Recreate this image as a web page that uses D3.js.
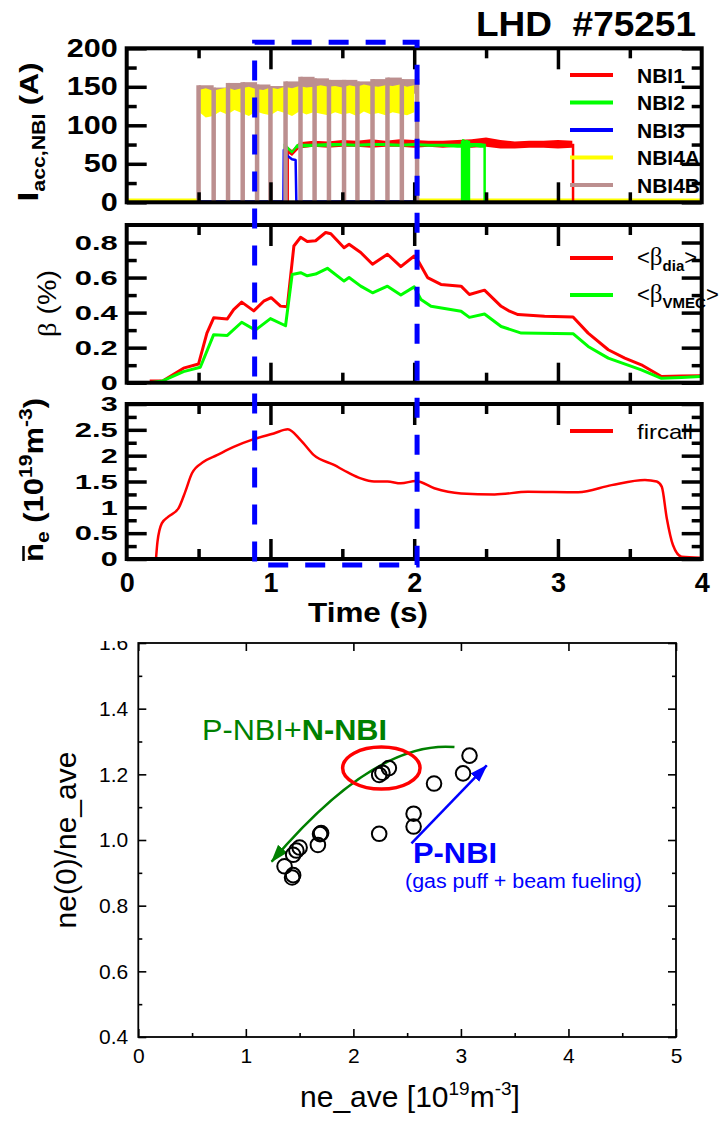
<!DOCTYPE html>
<html>
<head>
<meta charset="utf-8">
<script src="https://cdn.jsdelivr.net/npm/d3@7"></script>
<style>
  body { margin: 0; background: #fff; }
  svg { display: block; font-family: "Liberation Sans", Arial, Helvetica, sans-serif; }
</style>
</head>
<body>
<div id="chart"></div>
<script>

// ---------------- upper figure: LHD #75251 time traces ----------------
let shotTitle = "LHD  #75251";
let timeLabels = [0, 1, 2, 3, 4];
let timeMajor = [1, 2, 3];
let timeMinor = [0.5, 1.5, 2.5, 3.5];

let iaccMajor = [0, 50, 100, 150, 200];
let iaccMinor = [25, 75, 125, 175];
let betaMajor = [0, 0.2, 0.4, 0.6, 0.8];
let betaMinor = [0.1, 0.3, 0.5, 0.7];
let neMajor = [0, 0.5, 1, 1.5, 2, 2.5, 3];
let neMinor = [0.25, 0.75, 1.25, 1.75, 2.25, 2.75];

let nbiNames = ["NBI1", "NBI2", "NBI3", "NBI4A", "NBI4B"];
let nbiColors = ["#ff0000", "#00ff00", "#0000ff", "#ffff00", "#bc8f8f"];

// NBI1 (red), noisy band
let nbi1T  = [1.12, 1.15, 1.2, 1.3, 1.4, 1.5, 1.6, 1.7, 1.8, 1.9, 2.0, 2.1, 2.2, 2.3, 2.4, 2.5, 2.6, 2.7, 2.8, 2.9, 3.0, 3.1];
let nbi1Lo = [64, 60, 70, 72, 71, 72, 72, 71, 72, 72, 71, 72, 71, 72, 71, 72, 70, 70, 71, 71, 70, 71];
let nbi1Hi = [72, 68, 78, 80, 79, 81, 80, 82, 80, 82, 81, 80, 80, 81, 82, 84, 81, 79, 80, 80, 81, 80];
let nbi1Edges = [[1.12, 68], [3.105, 76]];

// NBI2 (green)
let nbi2T  = [1.10, 1.12, 1.15, 1.18, 1.2, 1.3, 1.4, 1.5, 1.6, 1.7, 1.8, 1.9, 2.0, 2.1, 2.2, 2.3, 2.33];
let nbi2Lo = [72, 68, 63, 70, 71, 72, 72, 73, 72, 73, 73, 72, 73, 72, 72, 71, 71];
let nbi2Hi = [77, 73, 67, 75, 76, 76, 77, 77, 76, 77, 77, 76, 77, 76, 76, 76, 76];
let nbi2bT  = [2.385, 2.42, 2.46, 2.49];
let nbi2bLo = [71, 72, 71, 71];
let nbi2bHi = [77, 77, 77, 76];
let nbi2Edges = [[1.10, 76], [2.333, 80], [2.341, 82], [2.349, 80], [2.357, 80], [2.365, 81], [2.373, 80], [2.381, 80], [2.49, 76]];

// NBI3 (blue), short pulse
let nbi3T = [0.5, 1.09, 1.093, 1.12, 1.15, 1.175, 1.18, 2.02];
let nbi3V = [1, 1, 68, 60, 56, 55, 1, 1];

// NBI4A (yellow), noisy band
let nbi4aT  = [0.50, 0.55, 0.60, 0.65, 0.70, 0.75, 0.80, 0.85, 0.90, 0.95, 1.00, 1.05, 1.10, 1.15, 1.20, 1.25, 1.30, 1.35, 1.40, 1.45, 1.50, 1.55, 1.60, 1.65, 1.70, 1.75, 1.80, 1.85, 1.90, 1.95, 2.00];
let nbi4aLo = [118, 110, 112, 118, 114, 120, 116, 112, 118, 115, 113, 119, 116, 112, 118, 114, 117, 115, 113, 117, 114, 116, 112, 118, 114, 116, 113, 117, 115, 113, 117];
let nbi4aHi = [146, 148, 145, 147, 149, 146, 148, 150, 147, 146, 149, 147, 150, 148, 151, 149, 150, 152, 150, 151, 149, 152, 150, 153, 151, 150, 152, 151, 153, 150, 152];
let nbi4aEdges = [[0.5, 140], [2.02, 150]];

// NBI4B (brown), modulated: brief drops to zero
let nbi4bOn = [0.50, 2.02];
let nbi4bDrops = [0.605, 0.705, 0.807, 0.907, 1.0, 1.105, 1.209, 1.307, 1.407, 1.512, 1.605, 1.71, 1.814, 1.914];
let nbi4bTop = [152, 149, 155, 156, 153, 151, 157, 163, 161, 159, 159, 157, 160, 162, 160];
let nbi4bLow = [138, 137, 139, 140, 138, 138, 140, 141, 142, 141, 141, 140, 141, 142, 141];

// off-beam noise near zero
let zeroNoiseT = [[0, 0.5], [2.02, 4]];

// beta
let betaNames = ["dia", "VMEC"];
let betaColors = ["#ff0000", "#00ff00"];
let betaDiaT = [0.16, 0.25, 0.395, 0.50, 0.558, 0.605, 0.70, 0.744, 0.80, 0.884, 0.953, 1.005, 1.07, 1.117, 1.163, 1.21, 1.256, 1.314, 1.384, 1.42, 1.512, 1.547, 1.628, 1.71, 1.814, 1.907, 2.0, 2.035, 2.093, 2.186, 2.326, 2.384, 2.489, 2.605, 2.663, 2.722, 2.907, 3.105, 3.21, 3.35, 3.465, 3.58, 3.72, 3.86, 3.99];
let betaDia  = [0.01, 0.01, 0.083, 0.107, 0.283, 0.37, 0.364, 0.417, 0.46, 0.41, 0.465, 0.485, 0.437, 0.433, 0.78, 0.83, 0.806, 0.81, 0.857, 0.85, 0.77, 0.79, 0.743, 0.676, 0.733, 0.662, 0.723, 0.685, 0.60, 0.561, 0.551, 0.503, 0.528, 0.436, 0.408, 0.389, 0.379, 0.375, 0.283, 0.188, 0.14, 0.102, 0.035, 0.038, 0.04];
let betaVmecT = [0.16, 0.25, 0.395, 0.512, 0.605, 0.70, 0.80, 0.895, 1.0, 1.105, 1.151, 1.21, 1.256, 1.314, 1.396, 1.512, 1.547, 1.628, 1.71, 1.814, 1.907, 2.0, 2.047, 2.117, 2.326, 2.384, 2.489, 2.605, 2.745, 3.105, 3.21, 3.35, 3.58, 3.72, 3.86, 3.99];
let betaVmec  = [0.0, 0.01, 0.063, 0.088, 0.274, 0.27, 0.345, 0.30, 0.366, 0.325, 0.618, 0.628, 0.61, 0.62, 0.653, 0.58, 0.60, 0.551, 0.513, 0.551, 0.50, 0.547, 0.475, 0.436, 0.408, 0.373, 0.392, 0.321, 0.283, 0.28, 0.207, 0.14, 0.073, 0.025, 0.03, 0.035];

// line averaged density (fircall)
let fircallT = [0.204, 0.214, 0.244, 0.29, 0.36, 0.407, 0.454, 0.535, 0.628, 0.744, 0.884, 1.023, 1.121, 1.21, 1.302, 1.442, 1.535, 1.628, 1.721, 1.814, 1.907, 2.012, 2.14, 2.326, 2.559, 2.791, 3.14, 3.373, 3.605, 3.687, 3.722, 3.757, 3.80, 3.86, 3.99];
let fircallV = [0.01, 0.33, 0.69, 0.82, 0.98, 1.30, 1.66, 1.88, 2.01, 2.17, 2.32, 2.43, 2.51, 2.30, 2.01, 1.82, 1.68, 1.56, 1.50, 1.50, 1.465, 1.51, 1.37, 1.27, 1.25, 1.30, 1.29, 1.43, 1.53, 1.50, 1.40, 0.79, 0.27, 0.045, 0.025];

// analysed time window
let windowT = [0.89, 2.02];

// ---------------- lower figure: peaking factor vs density ----------------
let neAve   = [3.08, 3.02, 2.75, 2.56, 2.56, 2.24, 2.33, 2.27, 2.24, 1.70, 1.69, 1.67, 1.50, 1.47, 1.44, 1.36, 1.44, 1.43];
let neRatio = [1.257, 1.203, 1.172, 1.080, 1.041, 1.019, 1.219, 1.205, 1.198, 1.021, 1.018, 0.985, 0.977, 0.968, 0.955, 0.920, 0.893, 0.886];
let sxTicks = [0, 1, 2, 3, 4, 5];
let sxMinor = [0.5, 1.5, 2.5, 3.5, 4.5];
let syTicks = [0.4, 0.6, 0.8, 1.0, 1.2, 1.4, 1.6];
let syMinor = [0.5, 0.7, 0.9, 1.1, 1.3, 1.5];

let greenArrow = [[2.94, 1.283], [2.20, 1.305], [1.24, 0.934]];
let blueArrow = [[2.54, 0.99], [3.24, 1.227]];
let redEllipse = { cx: 2.26, cy: 1.219, rx: 0.36, ry: 0.064 };

// ---------------------------------------------------------------------
let width = 719;
let height = 1122;

let svg = d3.select("#chart")
  .append("svg")
  .attr("width", width)
  .attr("height", height);

let plotL = 126.7;
let plotR = 701.7;
let x = d3.scaleLinear().domain([0, 4]).range([plotL, plotR]);

let iaccY = d3.scaleLinear().domain([0, 200]).range([202.3, 48.3]);
let betaY = d3.scaleLinear().domain([0, 0.9]).range([382.7, 225]);
let neY = d3.scaleLinear().domain([0, 3]).range([559, 404]);

function rows(T, lo, hi) {
  return T.map(function(t, i) { return { t: t, lo: lo[i], hi: hi[i] }; });
}

function band(g, data, color, y) {
  g.append("path")
    .datum(data)
    .attr("fill", color)
    .attr("d", d3.area()
      .x(function(d) { return x(d.t); })
      .y0(function(d) { return y(d.lo); })
      .y1(function(d) { return y(d.hi); }));
}

function edges(g, list, color, y, w) {
  g.selectAll(null)
    .data(list)
    .enter()
    .append("line")
    .attr("x1", function(d) { return x(d[0]); })
    .attr("x2", function(d) { return x(d[0]); })
    .attr("y1", y(0))
    .attr("y2", function(d) { return y(d[1]); })
    .attr("stroke", color)
    .attr("stroke-width", w);
}

function trace(g, T, V, color, y, w, curve) {
  g.append("path")
    .datum(T.map(function(t, i) { return [t, V[i]]; }))
    .attr("fill", "none")
    .attr("stroke", color)
    .attr("stroke-width", w)
    .attr("stroke-linejoin", "round")
    .attr("d", d3.line()
      .x(function(d) { return x(d[0]); })
      .y(function(d) { return y(d[1]); })
      .curve(curve || d3.curveLinear));
}

function labelLength(s, digitW, dotW) {
  let n = 0;
  for (let c of s) n += (c === ".") ? dotW : digitW;
  return n;
}

function panelAxes(y, major, minor, fmt, fontSize, digitW) {
  let g = svg.append("g");
  let top = y.range()[1];
  let bottom = y.range()[0];

  let left = g.append("g")
    .attr("transform", "translate(" + plotL + ",0)")
    .call(d3.axisLeft(y).tickValues(major).tickSize(-20).tickPadding(9).tickFormat(fmt));
  left.selectAll("text")
    .attr("font-size", fontSize)
    .attr("font-weight", "bold")
    .attr("font-family", "Liberation Sans, Arial, sans-serif")
    .attr("textLength", function() { return labelLength(this.textContent, digitW, 9); })
    .attr("lengthAdjust", "spacingAndGlyphs");

  g.append("g")
    .attr("transform", "translate(" + plotL + ",0)")
    .call(d3.axisLeft(y).tickValues(minor).tickSize(-10).tickFormat(""));
  g.append("g")
    .attr("transform", "translate(" + plotR + ",0)")
    .call(d3.axisRight(y).tickValues(major).tickSize(-20).tickFormat(""));
  g.append("g")
    .attr("transform", "translate(" + plotR + ",0)")
    .call(d3.axisRight(y).tickValues(minor).tickSize(-10).tickFormat(""));

  g.append("g")
    .attr("transform", "translate(0," + top + ")")
    .call(d3.axisTop(x).tickValues(timeMajor).tickSize(-21).tickFormat(""));
  g.append("g")
    .attr("transform", "translate(0," + top + ")")
    .call(d3.axisTop(x).tickValues(timeMinor).tickSize(-10).tickFormat(""));
  g.append("g")
    .attr("transform", "translate(0," + bottom + ")")
    .call(d3.axisBottom(x).tickValues(timeMajor).tickSize(-20).tickFormat(""));
  g.append("g")
    .attr("transform", "translate(0," + bottom + ")")
    .call(d3.axisBottom(x).tickValues(timeMinor).tickSize(-10).tickFormat(""));

  g.selectAll(".domain").remove();
  g.selectAll(".tick line").attr("stroke-width", 3.5);

  g.append("rect")
    .attr("x", plotL)
    .attr("y", top)
    .attr("width", plotR - plotL)
    .attr("height", bottom - top)
    .attr("fill", "none")
    .attr("stroke", "#000")
    .attr("stroke-width", 4);
  return g;
}

function legendLine(y0, color) {
  svg.append("line")
    .attr("x1", 570).attr("x2", 613)
    .attr("y1", y0).attr("y2", y0)
    .attr("stroke", color)
    .attr("stroke-width", 4);
}

// ---- title ----
svg.append("text")
  .attr("x", 696)
  .attr("y", 36)
  .attr("text-anchor", "end")
  .attr("font-size", 35)
  .attr("font-weight", "bold")
  .style("white-space", "pre")
  .attr("textLength", 220)
  .attr("lengthAdjust", "spacingAndGlyphs")
  .text(shotTitle);

// ---- panel 1: NBI currents ----
let p1 = svg.append("g");

zeroNoiseT.forEach(function(r) {
  band(p1, [{ t: r[0], lo: -2, hi: 5 }, { t: r[1], lo: -2, hi: 5 }], "#ffff00", iaccY);
});
band(p1, rows(nbi1T, nbi1Lo, nbi1Hi), nbiColors[0], iaccY);
edges(p1, nbi1Edges, nbiColors[0], iaccY, 2.5);
band(p1, rows(nbi2T, nbi2Lo, nbi2Hi), nbiColors[1], iaccY);
band(p1, rows(nbi2bT, nbi2bLo, nbi2bHi), nbiColors[1], iaccY);
edges(p1, nbi2Edges, nbiColors[1], iaccY, 2.5);
trace(p1, nbi3T, nbi3V, nbiColors[2], iaccY, 2.5);

// brown tops first, yellow band over them, then the brown drop lines
let segBounds = [nbi4bOn[0]].concat(nbi4bDrops, [nbi4bOn[1]]);
for (let i = 0; i < segBounds.length - 1; i++) {
  band(p1, [
    { t: segBounds[i], lo: nbi4bLow[i], hi: nbi4bTop[i] },
    { t: segBounds[i + 1], lo: nbi4bLow[i], hi: nbi4bTop[i] }
  ], nbiColors[4], iaccY);
}
band(p1, rows(nbi4aT, nbi4aLo, nbi4aHi), nbiColors[3], iaccY);
edges(p1, nbi4aEdges, nbiColors[3], iaccY, 2);
edges(p1, segBounds.map(function(t, i) {
  return [t, nbi4bTop[Math.min(i, nbi4bTop.length - 1)]];
}), nbiColors[4], iaccY, 4.5);

nbiNames.forEach(function(name, i) {
  let ly = iaccY.range()[1] + 26.7 + i * 27.5;
  legendLine(ly, nbiColors[i]);
  svg.append("text")
    .attr("x", 637)
    .attr("y", ly + 7.5)
    .attr("font-size", 21)
    .attr("font-weight", "bold")
    .text(name);
});

panelAxes(iaccY, iaccMajor, iaccMinor, d3.format("d"), 25, 17);

// ---- panel 2: beta ----
let p2 = svg.append("g");
trace(p2, betaDiaT, betaDia, betaColors[0], betaY, 3);
trace(p2, betaVmecT, betaVmec, betaColors[1], betaY, 3);

betaNames.forEach(function(name, i) {
  let ly = betaY.range()[1] + 33 + i * 37;
  legendLine(ly, betaColors[i]);
  let t = svg.append("text")
    .attr("x", 637)
    .attr("y", ly + 7)
    .attr("font-size", 22);
  t.append("tspan").text("<");
  t.append("tspan").attr("font-family", "Liberation Serif, DejaVu Serif, serif").attr("font-size", 25).text("β");
  t.append("tspan").attr("font-size", 15).attr("font-weight", "bold").attr("dy", 6).text(name);
  t.append("tspan").attr("dy", -6).text(">");
});

panelAxes(betaY, betaMajor, betaMinor, function(d) { return String(d); }, 21, 17);

// ---- panel 3: density ----
let p3 = svg.append("g");
trace(p3, fircallT, fircallV, "#ff0000", neY, 2.5, d3.curveMonotoneX);

legendLine(neY.range()[1] + 27, "#ff0000");
svg.append("text")
  .attr("x", 637)
  .attr("y", neY.range()[1] + 34.5)
  .attr("font-size", 21)
  .attr("textLength", 56)
  .attr("lengthAdjust", "spacingAndGlyphs")
  .text("fircall");

panelAxes(neY, neMajor, neMinor, function(d) { return String(d); }, 21, 17);

// time labels
svg.append("g")
  .attr("transform", "translate(0," + neY.range()[0] + ")")
  .call(d3.axisBottom(x).tickValues(timeLabels).tickSize(0).tickPadding(14).tickFormat(d3.format("d")))
  .call(function(g) { g.select(".domain").remove(); })
  .selectAll("text")
  .attr("font-size", 27)
  .attr("font-weight", "bold")
  .attr("font-family", "Liberation Sans, Arial, sans-serif");

svg.append("text")
  .attr("x", 368)
  .attr("y", 622)
  .attr("text-anchor", "middle")
  .attr("font-size", 27)
  .attr("font-weight", "bold")
  .attr("textLength", 120)
  .attr("lengthAdjust", "spacingAndGlyphs")
  .text("Time (s)");

// y axis titles of the traces
let yl1 = svg.append("text")
  .attr("transform", "translate(38,132) rotate(-90)")
  .attr("text-anchor", "middle")
  .attr("font-weight", "bold")
  .attr("textLength", 139)
  .attr("lengthAdjust", "spacingAndGlyphs");
yl1.append("tspan").attr("font-size", 30).text("I");
yl1.append("tspan").attr("font-size", 18).attr("dy", 7).text("acc,NBI");
yl1.append("tspan").attr("font-size", 26).attr("dy", -7).text(" (A)");

let yl2 = svg.append("text")
  .attr("transform", "translate(56,303.5) rotate(-90)")
  .attr("text-anchor", "middle")
  .attr("font-size", 25)
  .attr("textLength", 67)
  .attr("lengthAdjust", "spacingAndGlyphs");
yl2.append("tspan").attr("font-family", "Liberation Serif, DejaVu Serif, serif").text("β");
yl2.append("tspan").text(" (%)");

let yl3 = svg.append("text")
  .attr("transform", "translate(43,480) rotate(-90)")
  .attr("text-anchor", "middle")
  .attr("font-weight", "bold")
  .attr("font-size", 28)
  .attr("textLength", 164)
  .attr("lengthAdjust", "spacingAndGlyphs");
yl3.append("tspan").text("n");
yl3.append("tspan").attr("font-size", 19).attr("dy", 6).text("e");
yl3.append("tspan").attr("dy", -6).text(" (10");
yl3.append("tspan").attr("font-size", 19).attr("dy", -11).text("19");
yl3.append("tspan").attr("dy", 11).text("m");
yl3.append("tspan").attr("font-size", 19).attr("dy", -11).text("-3");
yl3.append("tspan").attr("dy", 11).text(")");
svg.append("line")
  .attr("x1", 23.5).attr("x2", 23.5)
  .attr("y1", 546).attr("y2", 561)
  .attr("stroke", "#000")
  .attr("stroke-width", 2.5);

// analysed window (dashed box through all three panels)
svg.append("rect")
  .attr("x", x(windowT[0]))
  .attr("y", iaccY.range()[1] - 6)
  .attr("width", x(windowT[1]) - x(windowT[0]))
  .attr("height", neY.range()[0] + 6 - (iaccY.range()[1] - 6))
  .attr("fill", "none")
  .attr("stroke", "#0000ff")
  .attr("stroke-width", 5)
  .attr("stroke-dasharray", "20,17");

// ---------------- lower figure ----------------
let sx = d3.scaleLinear().domain([0, 5]).range([138.3, 676]);
let sy = d3.scaleLinear().domain([0.4, 1.6]).range([1037, 643]);

svg.append("defs").append("clipPath")
  .attr("id", "lowerClip")
  .append("rect")
  .attr("x", 0).attr("y", 641)
  .attr("width", width).attr("height", height - 641);

let lower = svg.append("g").attr("clip-path", "url(#lowerClip)");

let sAxes = lower.append("g");
sAxes.append("g")
  .attr("transform", "translate(0," + sy(0.4) + ")")
  .call(d3.axisBottom(sx).tickValues(sxTicks).tickSize(-8).tickPadding(11).tickFormat(d3.format("d")));
sAxes.append("g")
  .attr("transform", "translate(0," + sy(0.4) + ")")
  .call(d3.axisBottom(sx).tickValues(sxMinor).tickSize(-4).tickFormat(""));
sAxes.append("g")
  .attr("transform", "translate(0," + sy(1.6) + ")")
  .call(d3.axisTop(sx).tickValues(sxTicks).tickSize(-8).tickFormat(""));
sAxes.append("g")
  .attr("transform", "translate(" + sx(0) + ",0)")
  .call(d3.axisLeft(sy).tickValues(syTicks).tickSize(-8).tickPadding(10).tickFormat(d3.format(".1f")));
sAxes.append("g")
  .attr("transform", "translate(" + sx(0) + ",0)")
  .call(d3.axisLeft(sy).tickValues(syMinor).tickSize(-4).tickFormat(""));
sAxes.append("g")
  .attr("transform", "translate(" + sx(5) + ",0)")
  .call(d3.axisRight(sy).tickValues(syTicks).tickSize(-8).tickFormat(""));
sAxes.append("g")
  .attr("transform", "translate(" + sx(5) + ",0)")
  .call(d3.axisRight(sy).tickValues(syMinor).tickSize(-4).tickFormat(""));
sAxes.selectAll(".domain").remove();
sAxes.selectAll(".tick line").attr("stroke-width", 1.6);
sAxes.selectAll("text")
  .attr("font-size", 21)
  .attr("font-family", "Liberation Sans, Arial, sans-serif");

lower.append("rect")
  .attr("x", sx(0))
  .attr("y", sy(1.6))
  .attr("width", sx(5) - sx(0))
  .attr("height", sy(0.4) - sy(1.6))
  .attr("fill", "none")
  .attr("stroke", "#000")
  .attr("stroke-width", 1.8);

// arrows
let defs = svg.select("defs");
[["headGreen", "#008000"], ["headBlue", "#0000ff"]].forEach(function(m) {
  defs.append("marker")
    .attr("id", m[0])
    .attr("markerUnits", "userSpaceOnUse")
    .attr("markerWidth", 18)
    .attr("markerHeight", 12)
    .attr("refX", 17)
    .attr("refY", 6)
    .attr("orient", "auto")
    .append("path")
    .attr("d", "M0,0 L18,6 L0,12 Z")
    .attr("fill", m[1]);
});

let gp = d3.path();
gp.moveTo(sx(greenArrow[0][0]), sy(greenArrow[0][1]));
gp.quadraticCurveTo(sx(greenArrow[1][0]), sy(greenArrow[1][1]), sx(greenArrow[2][0]), sy(greenArrow[2][1]));
lower.append("path")
  .attr("d", gp.toString())
  .attr("fill", "none")
  .attr("stroke", "#008000")
  .attr("stroke-width", 2.5)
  .attr("marker-end", "url(#headGreen)");

lower.append("line")
  .attr("x1", sx(blueArrow[0][0])).attr("y1", sy(blueArrow[0][1]))
  .attr("x2", sx(blueArrow[1][0])).attr("y2", sy(blueArrow[1][1]))
  .attr("stroke", "#0000ff")
  .attr("stroke-width", 2.5)
  .attr("marker-end", "url(#headBlue)");

lower.append("ellipse")
  .attr("cx", sx(redEllipse.cx))
  .attr("cy", sy(redEllipse.cy))
  .attr("rx", sx(redEllipse.rx) - sx(0))
  .attr("ry", sy(0.4) - sy(0.4 + redEllipse.ry))
  .attr("fill", "none")
  .attr("stroke", "#ff0000")
  .attr("stroke-width", 3.5);

// points
lower.selectAll("circle.pt")
  .data(neAve)
  .enter()
  .append("circle")
  .attr("class", "pt")
  .attr("cx", function(d) { return sx(d); })
  .attr("cy", function(d, i) { return sy(neRatio[i]); })
  .attr("r", 7.3)
  .attr("fill", "none")
  .attr("stroke", "#000")
  .attr("stroke-width", 2);

// annotation texts
let tg = lower.append("text")
  .attr("x", 202)
  .attr("y", 740)
  .attr("font-size", 30)
  .attr("fill", "#008000")
  .attr("textLength", 185)
  .attr("lengthAdjust", "spacingAndGlyphs");
tg.append("tspan").text("P-NBI+");
tg.append("tspan").attr("font-weight", "bold").text("N-NBI");

lower.append("text")
  .attr("x", 413)
  .attr("y", 863)
  .attr("font-size", 29)
  .attr("font-weight", "bold")
  .attr("fill", "#0000ff")
  .attr("textLength", 84)
  .attr("lengthAdjust", "spacingAndGlyphs")
  .text("P-NBI");

lower.append("text")
  .attr("x", 405)
  .attr("y", 888)
  .attr("font-size", 20)
  .attr("fill", "#0000ff")
  .attr("textLength", 237)
  .attr("lengthAdjust", "spacingAndGlyphs")
  .text("(gas puff + beam fueling)");

// axis titles
let xt = lower.append("text")
  .attr("x", 410)
  .attr("y", 1107)
  .attr("text-anchor", "middle")
  .attr("font-size", 30);
xt.append("tspan").text("ne_ave [10");
xt.append("tspan").attr("font-size", 19).attr("dy", -12).text("19");
xt.append("tspan").attr("dy", 12).text("m");
xt.append("tspan").attr("font-size", 19).attr("dy", -12).text("-3");
xt.append("tspan").attr("dy", 12).text("]");

lower.append("text")
  .attr("transform", "translate(76,840) rotate(-90)")
  .attr("text-anchor", "middle")
  .attr("font-size", 30)
  .text("ne(0)/ne_ave");

</script>
</body>
</html>
